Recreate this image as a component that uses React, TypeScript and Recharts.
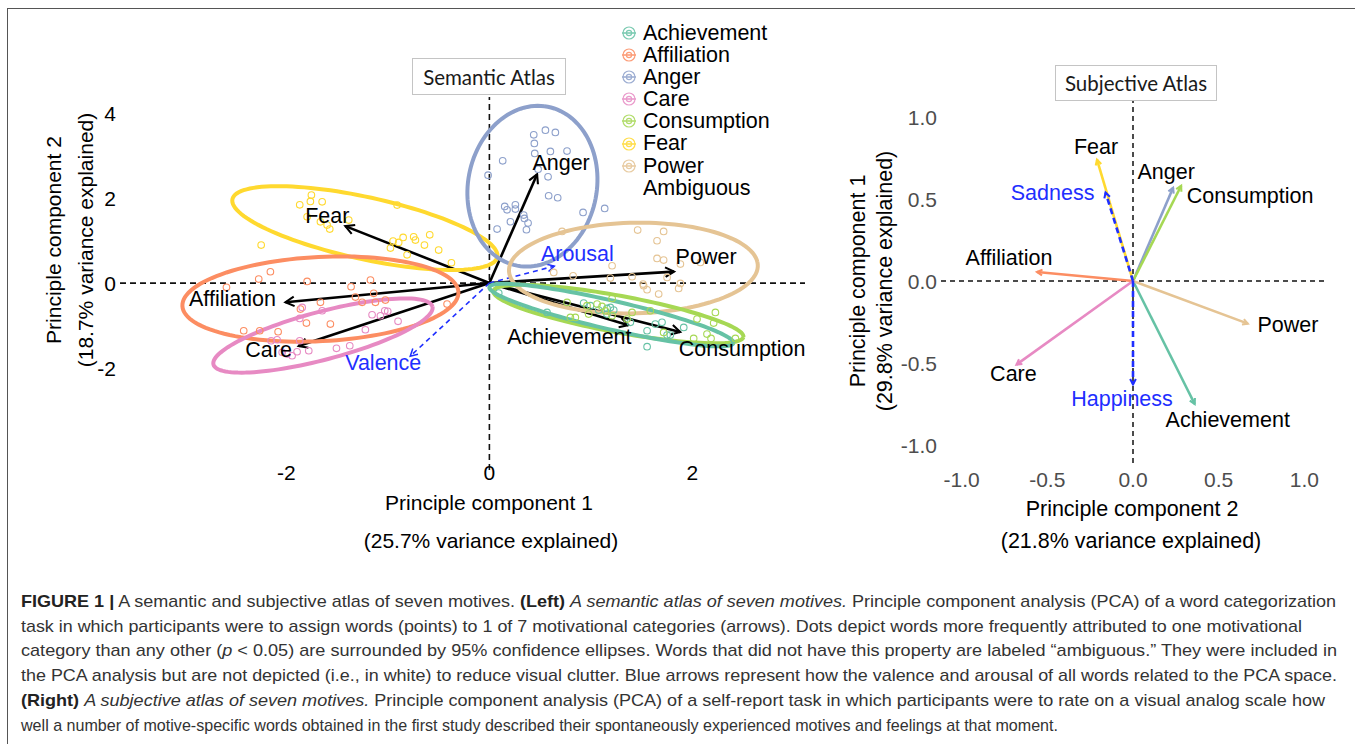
import React from 'react';
import { ScatterChart, Scatter, XAxis, YAxis, ReferenceLine } from 'recharts';

const SANS = '"Liberation Sans", Arial, Helvetica, sans-serif';

// ---------- categories ----------
const categories = ['Achievement', 'Affiliation', 'Anger', 'Care', 'Consumption', 'Fear', 'Power'];
const legendLabels = [...categories, 'Ambiguous'];

// ---------- tick labels ----------
const semanticXTicks = [-2, 0, 2];
const semanticYTicks = [-2, 0, 2, 4];
const subjectiveTicks = [-1, -0.5, 0, 0.5, 1];

// ---------- semantic atlas: category loadings (arrows) ----------
const semanticArrows = [
  { name: 'Achievement', x: 1.37, y: -0.99 },
  { name: 'Affiliation', x: -2.01, y: -0.45 },
  { name: 'Anger', x: 0.47, y: 2.56 },
  { name: 'Care', x: -1.88, y: -1.48 },
  { name: 'Consumption', x: 1.88, y: -1.15 },
  { name: 'Fear', x: -1.42, y: 1.34 },
  { name: 'Power', x: 1.82, y: 0.27 },
];
const semanticBlueArrows = [
  { name: 'Arousal', x: 0.64, y: 0.4 },
  { name: 'Valence', x: -0.78, y: -1.72 },
];

// ---------- semantic atlas: words (points) ----------
const achievementWords = [
  [0.568, -0.69], [0.929, -0.471], [0.995, -0.533], [1.159, -0.596], [1.192, -0.572], [1.077, -0.635],
  [1.225, -0.635], [1.159, -0.729], [1.635, -0.965], [1.701, -0.925], [1.915, -1.043], [1.751, -1.224],
  [1.783, -1.224], [1.554, -1.498], [1.554, -1.122], [0.092, -0.235], [1.389, -0.925],
];
const affiliationWords = [
  [-2.158, 0.266], [-2.273, 0.094], [-1.796, 0.04], [-1.172, 0.071], [-1.363, -0.087], [-1.14, -0.242],
  [-1.025, -0.4], [-1.123, -0.454], [-1.254, -0.454], [-1.665, -0.454], [-1.803, -0.941], [-2.082, -1.146],
  [-2.263, -1.122], [-2.421, -1.122], [-2.591, -0.101], [-0.417, -0.494], [-1.567, -0.965], [-1.862, -0.612],
  [-1.32, -0.33],
];
const angerWords = [
  [0.437, 3.49], [0.552, 3.6], [0.65, 3.545], [0.443, 3.287], [0.447, 3.051], [0.601, 3.098], [0.765, 3.106],
  [0.578, 2.502], [0.48, 2.682], [0.131, 2.878], [-0.013, 2.541], [0.584, 2.055], [0.673, 2.008],
  [0.151, 1.804], [0.174, 1.725], [0.256, 1.843], [0.256, 1.741], [0.338, 1.6], [0.345, 1.522],
  [0.381, 1.412], [0.365, 1.255], [0.207, 1.443], [0.076, 1.271], [0.923, 1.663], [1.136, 1.757],
];
const careWords = [
  [-1.845, -0.572], [-1.869, -0.831], [-1.648, -0.652], [-1.156, -0.746], [-1.074, -0.769], [-1.031, -0.652],
  [-1.002, -0.666], [-0.9, -0.901], [-1.222, -1.099], [-1.376, -1.475], [-1.507, -1.536], [-1.78, -1.593],
  [-1.869, -1.358], [-1.895, -1.616], [-1.944, -1.711], [-2.042, -1.631], [-2.092, -1.334], [-2.151, -1.358],
  [-1.993, -1.671],
];
const consumptionWords = [
  [0.765, -0.455], [0.798, -0.808], [0.847, -0.808], [0.962, -0.533], [1.061, -0.494], [1.11, -0.549],
  [1.143, -0.651], [1.209, -0.769], [0.978, -0.729], [1.209, -0.361], [1.357, -0.847], [1.586, -0.651],
  [2.046, -0.847], [2.227, -0.69], [2.21, -0.941], [2.144, -1.2], [2.013, -1.302], [2.184, -1.302],
  [2.424, -1.302], [1.717, -1.161], [1.406, -0.69],
];
const fearWords = [
  [-1.869, 1.842], [-1.754, 2.071], [-1.764, 1.922], [-1.648, 1.913], [-1.796, 1.56], [-1.665, 1.442],
  [-1.599, 1.365], [-1.573, 1.271], [-1.386, 1.482], [-0.909, 1.835], [-2.249, 0.894], [-0.949, 0.988],
  [-0.894, 0.958], [-0.85, 1.075], [-0.746, 1.089], [-0.729, 1.012], [-0.588, 1.136], [-0.64, 0.894],
  [-0.975, 0.824], [-0.811, 0.666], [-0.5, 0.776], [-0.374, 0.478],
];
const powerWords = [
  [0.716, 1.216], [1.461, 1.247], [1.717, 1.216], [1.652, 0.996], [1.652, 0.58], [1.717, 0.541],
  [2.079, 0.486], [1.209, 0.408], [0.634, 0.251], [0.825, 0.173], [1.406, 0.149], [1.751, 0.133],
  [1.882, -0.008], [1.52, -0.063], [1.668, -0.259], [1.865, -0.125], [1.514, -0.024], [1.554, -0.157],
  [1.192, 0.118], [1.882, 0.447],
];

// ---------- semantic atlas: 95% confidence ellipses (centre + two semi-axis vectors) ----------
const confidenceEllipses = [
  { name: 'Fear', cx: -1.227, cy: 1.294, ux: 1.305, uy: -0.682, vx: 0.065, vy: 0.713 },
  { name: 'Affiliation', cx: -1.665, cy: -0.376, ux: 1.36, uy: 0.165, vx: -0.02, vy: 0.99 },
  { name: 'Care', cx: -1.64, cy: -1.235, ux: 1.079, uy: 0.682, vx: -0.06, vy: 0.546 },
  { name: 'Anger', cx: 0.424, cy: 2.28, ux: 0.118, uy: 1.882, vx: 0.63, vy: -0.188 },
  { name: 'Power', cx: 1.419, cy: 0.353, ux: 1.222, uy: 0.141, vx: -0.099, vy: 1.059 },
  { name: 'Consumption', cx: 1.271, cy: -0.729, ux: 1.232, uy: -0.541, vx: 0.033, vy: 0.424 },
  { name: 'Achievement', cx: 1.202, cy: -0.753, ux: 1.202, uy: -0.659, vx: 0.03, vy: 0.33 },
];

// ---------- subjective atlas: loadings ----------
const subjectiveArrows = [
  { name: 'Achievement', x: 0.36, y: -0.75 },
  { name: 'Affiliation', x: -0.56, y: 0.055 },
  { name: 'Anger', x: 0.234, y: 0.569 },
  { name: 'Care', x: -0.68, y: -0.51 },
  { name: 'Consumption', x: 0.281, y: 0.581 },
  { name: 'Fear', x: -0.21, y: 0.74 },
  { name: 'Power', x: 0.67, y: -0.26 },
];
const subjectiveBlueArrows = [
  { name: 'Sadness', x: -0.16, y: 0.54 },
  { name: 'Happiness', x: 0.0, y: -0.63 },
];

// ---------- styles ----------
const COLORS: Record<string, string> = {
  Achievement: '#66C2A5',
  Affiliation: '#FC8D62',
  Anger: '#8DA0CB',
  Care: '#E78AC3',
  Consumption: '#A6D854',
  Fear: '#FFD92F',
  Power: '#E5C494',
};
const BLUE = '#1f2fff';

const wordSets: Record<string, number[][]> = {
  Achievement: achievementWords,
  Affiliation: affiliationWords,
  Anger: angerWords,
  Care: careWords,
  Consumption: consumptionWords,
  Fear: fearWords,
  Power: powerWords,
};

const semanticLabelOffset: Record<string, [number, number]> = {
  Anger: [24, -12], Fear: [-18, -11], Power: [32, -15], Affiliation: [-53, -4], Care: [-30, 3],
  Achievement: [-59, 11], Consumption: [62, 16], Arousal: [23, -13], Valence: [-27, 6],
};
const subjectiveLabelOffset: Record<string, [number, number]> = {
  Fear: [-1, -13], Sadness: [-53, 0], Anger: [-7, -16], Consumption: [69, 10], Affiliation: [-28, -15],
  Power: [40, 1], Care: [-3, 9], Achievement: [33, 15], Happiness: [-11, 14],
};

function ellipsePoints(e: any) {
  const pts: { x: number; y: number }[] = [];
  const n = 120;
  for (let i = 0; i <= n; i++) {
    const t = (i / n) * 2 * Math.PI;
    pts.push({
      x: e.cx + e.ux * Math.cos(t) + e.vx * Math.sin(t),
      y: e.cy + e.uy * Math.cos(t) + e.vy * Math.sin(t),
    });
  }
  return pts;
}

function arrowShape(color: string, width: number, dash: string | undefined, head: number) {
  return (p: any) => {
    const { x1, y1, x2, y2 } = p;
    const ang = Math.atan2(y2 - y1, x2 - x1);
    const a1 = ang + Math.PI - 0.5;
    const a2 = ang + Math.PI + 0.5;
    const pts = `${x2 + head * Math.cos(a1)},${y2 + head * Math.sin(a1)} ${x2},${y2} ${x2 + head * Math.cos(a2)},${y2 + head * Math.sin(a2)}`;
    return (
      <g>
        <line x1={x1} y1={y1} x2={x2} y2={y2} stroke={color} strokeWidth={width} strokeDasharray={dash} />
        <polyline points={pts} fill="none" stroke={color} strokeWidth={Math.max(1.5, width * 0.8)} />
      </g>
    );
  };
}

function labelShape(offsets: Record<string, [number, number]>, size: number, colorFor: (n: string) => string) {
  return (p: any) => {
    const name = p.payload.name;
    const [dx, dy] = offsets[name] || [0, 0];
    return (
      <text x={p.cx + dx} y={p.cy + dy} dy="0.36em" textAnchor="middle" fontSize={size} fontFamily={SANS} fill={colorFor(name)}>
        {name}
      </text>
    );
  };
}

const openCircle = (color: string) => (p: any) => (
  <circle cx={p.cx} cy={p.cy} r={3.3} fill="none" stroke={color} strokeWidth={1.1} />
);

const LeftXTick = (p: any) => (
  <text x={p.x} y={p.y - 5} dy="0.71em" textAnchor="middle" fontSize={21} fontFamily={SANS} fill="#000">
    {p.payload.value}
  </text>
);
const LeftYTick = (p: any) => (
  <text x={p.x - 4} y={p.y} dy="0.36em" textAnchor="end" fontSize={21} fontFamily={SANS} fill="#000">
    {p.payload.value}
  </text>
);
const RightXTick = (p: any) => (
  <text x={p.x} y={p.y + 9} dy="0.71em" textAnchor="middle" fontSize={21} fontFamily={SANS} fill="#4d4d4d">
    {Number(p.payload.value).toFixed(1)}
  </text>
);
const RightYTick = (p: any) => (
  <text x={p.x - 4} y={p.y} dy="0.36em" textAnchor="end" fontSize={21} fontFamily={SANS} fill="#4d4d4d">
    {Number(p.payload.value).toFixed(1)}
  </text>
);

const abs = (s: React.CSSProperties): React.CSSProperties => ({ position: 'absolute', ...s });

function SemanticAtlas() {
  return (
    <div style={abs({ left: 0, top: 0 })}>
      <ScatterChart width={830} height={500} margin={{ top: 97, right: 25, bottom: 0, left: 80 }}>
        <XAxis type="number" dataKey="x" domain={[-3.64, 3.11]} ticks={semanticXTicks} axisLine={false} tickLine={false} tickSize={0} tickMargin={0} height={30} tick={<LeftXTick />} interval={0} />
        <YAxis type="number" dataKey="y" domain={[-4.4, 4.38]} ticks={semanticYTicks} axisLine={false} tickLine={false} tickSize={0} tickMargin={0} width={40} tick={<LeftYTick />} interval={0} />
        <ReferenceLine y={0} stroke="#111" strokeWidth={1.6} strokeDasharray="6 4" />
        <ReferenceLine x={0} stroke="#111" strokeWidth={1.6} strokeDasharray="6 4" />
        {confidenceEllipses.map((e) => (
          <Scatter key={'el' + e.name} data={ellipsePoints(e)} fill={COLORS[e.name]} line={{ stroke: COLORS[e.name], strokeWidth: 4 }} lineType="joint" shape={() => <g />} isAnimationActive={false} />
        ))}
        {categories.map((c) => (
          <Scatter key={'pt' + c} data={wordSets[c].map(([x, y]) => ({ x, y }))} shape={openCircle(COLORS[c])} isAnimationActive={false} />
        ))}
        {semanticArrows.map((a) => (
          <ReferenceLine key={'ar' + a.name} segment={[{ x: 0, y: 0 }, { x: a.x, y: a.y }]} ifOverflow="visible" shape={arrowShape('#000', 2.6, undefined, 10)} />
        ))}
        {semanticBlueArrows.map((a) => (
          <ReferenceLine key={'ab' + a.name} segment={[{ x: 0, y: 0 }, { x: a.x, y: a.y }]} ifOverflow="visible" shape={arrowShape(BLUE, 1.6, '5 4', 8)} />
        ))}
        <Scatter data={semanticArrows} shape={labelShape(semanticLabelOffset, 21.5, () => '#000')} isAnimationActive={false} />
        <Scatter data={semanticBlueArrows} shape={labelShape(semanticLabelOffset, 21.5, () => BLUE)} isAnimationActive={false} />
      </ScatterChart>
    </div>
  );
}

function SubjectiveAtlas() {
  return (
    <div style={abs({ left: 830, top: 0 })}>
      <ScatterChart width={525} height={560} margin={{ top: 99, right: 30, bottom: 67, left: 71 }}>
        <XAxis type="number" dataKey="x" domain={[-1.12, 1.12]} ticks={subjectiveTicks} axisLine={false} tickLine={false} tickSize={0} tickMargin={0} height={30} tick={<RightXTick />} interval={0} />
        <YAxis type="number" dataKey="y" domain={[-1.11, 1.11]} ticks={subjectiveTicks} axisLine={false} tickLine={false} tickSize={0} tickMargin={0} width={40} tick={<RightYTick />} interval={0} />
        <ReferenceLine y={0} stroke="#111" strokeWidth={1.5} strokeDasharray="5 4" />
        <ReferenceLine x={0} stroke="#111" strokeWidth={1.5} strokeDasharray="5 4" />
        {subjectiveArrows.map((a) => (
          <ReferenceLine key={'sr' + a.name} segment={[{ x: 0, y: 0 }, { x: a.x, y: a.y }]} ifOverflow="visible" shape={arrowShape(COLORS[a.name], 2.6, undefined, 6)} />
        ))}
        {subjectiveBlueArrows.map((a) => (
          <ReferenceLine key={'sb' + a.name} segment={[{ x: 0, y: 0 }, { x: a.x, y: a.y }]} ifOverflow="visible" shape={arrowShape(BLUE, 2.6, '6 4', 6)} />
        ))}
        <Scatter data={subjectiveArrows} shape={labelShape(subjectiveLabelOffset, 21.5, () => '#000')} isAnimationActive={false} />
        <Scatter data={subjectiveBlueArrows} shape={labelShape(subjectiveLabelOffset, 21.5, () => BLUE)} isAnimationActive={false} />
      </ScatterChart>
    </div>
  );
}

function LegendBlock() {
  return (
    <div style={abs({ left: 620, top: 22, fontFamily: SANS, fontSize: 21.5, lineHeight: '22.1px', color: '#000' })}>
      {legendLabels.map((l) => (
        <div key={l} style={{ display: 'flex', alignItems: 'center', height: 22.1 }}>
          <svg width={18} height={16} style={{ marginRight: 5 }}>
            {COLORS[l] ? (
              <g stroke={COLORS[l]} fill="none" strokeWidth={1.2} opacity={0.85}>
                <circle cx={9} cy={8} r={6} />
                <circle cx={9} cy={8} r={2.6} />
                <line x1={2} y1={8} x2={16} y2={8} strokeWidth={1.6} />
              </g>
            ) : null}
          </svg>
          <span>{l}</span>
        </div>
      ))}
    </div>
  );
}

const titleBox = (left: number, top: number, w: number, h: number, text: string) => (
  <div
    style={abs({
      left, top, width: w, height: h, boxSizing: 'border-box', border: '1.5px solid #c4c4c4', background: '#fff',
      display: 'flex', alignItems: 'center', justifyContent: 'center', fontFamily: 'Lato, "Open Sans", sans-serif',
      fontSize: 20.5, color: '#1a1a1a',
    })}
  >
    {text}
  </div>
);

const centered = (cx: number, cy: number, text: string, size: number, rotate = false) => (
  <div
    style={abs({
      left: cx, top: cy, transform: `translate(-50%, -50%)${rotate ? ' rotate(-90deg)' : ''}`, whiteSpace: 'nowrap',
      fontFamily: SANS, fontSize: size, color: '#000', lineHeight: 1,
    })}
  >
    {text}
  </div>
);

type Part = { t: string; b?: boolean; i?: boolean };
const captionLines: Part[][] = [
  [
    { t: 'FIGURE 1 |', b: true },
    { t: ' A semantic and subjective atlas of seven motives. ' },
    { t: '(Left)', b: true },
    { t: ' ' },
    { t: 'A semantic atlas of seven motives.', i: true },
    { t: ' Principle component analysis (PCA) of a word categorization' },
  ],
  [{ t: 'task in which participants were to assign words (points) to 1 of 7 motivational categories (arrows). Dots depict words more frequently attributed to one motivational' }],
  [
    { t: 'category than any other (' },
    { t: 'p', i: true },
    { t: ' < 0.05) are surrounded by 95% confidence ellipses. Words that did not have this property are labeled \u201cambiguous.\u201d They were included in' },
  ],
  [{ t: 'the PCA analysis but are not depicted (i.e., in white) to reduce visual clutter. Blue arrows represent how the valence and arousal of all words related to the PCA space.' }],
  [
    { t: '(Right)', b: true },
    { t: ' ' },
    { t: 'A subjective atlas of seven motives.', i: true },
    { t: ' Principle component analysis (PCA) of a self-report task in which participants were to rate on a visual analog scale how' },
  ],
  [{ t: 'well a number of motive-specific words obtained in the first study described their spontaneously experienced motives and feelings at that moment.' }],
];
const captionRightEdges = [1336, 1302, 1337, 1337, 1325, 1058];

function Caption() {
  const left = 21;
  return (
    <svg style={abs({ left: 0, top: 580 })} width={1355} height={164}>
      {captionLines.map((parts, i) => (
        <text
          key={i}
          x={left}
          y={27 + i * 24.7}
          textLength={captionRightEdges[i] - left}
          lengthAdjust="spacingAndGlyphs"
          fontFamily={SANS}
          fontSize={17}
          fill="#333"
        >
          {parts.map((p, j) => (
            <tspan key={j} fontWeight={p.b ? 'bold' : 'normal'} fontStyle={p.i ? 'italic' : 'normal'} fill={p.b ? '#222' : '#333'}>
              {p.t}
            </tspan>
          ))}
        </text>
      ))}
    </svg>
  );
}

export default function App() {
  return (
    <div style={abs({ left: 0, top: 0, width: 1355, height: 744, background: '#fff', overflow: 'hidden' })}>
      <div style={abs({ left: 7, top: 8, width: 1360, height: 760, borderTop: '1.5px solid #555', borderLeft: '1.5px solid #555' })} />
      <SemanticAtlas />
      <SubjectiveAtlas />
      <LegendBlock />
      {titleBox(412, 58, 154, 37, 'Semantic Atlas')}
      {titleBox(1055, 65, 162, 36, 'Subjective Atlas')}
      {centered(489, 502, 'Principle component 1', 21)}
      {centered(491, 540, '(25.7% variance explained)', 21)}
      {centered(53, 240, 'Principle component 2', 21, true)}
      {centered(85, 240, '(18.7% variance explained)', 21, true)}
      {centered(1132, 510, 'Principle component 2', 21.5)}
      {centered(1131, 542, '(21.8% variance explained)', 21.5)}
      {centered(859, 281, 'Principle component 1', 21.5, true)}
      {centered(886, 281, '(29.8% variance explained)', 21.5, true)}
      <Caption />
    </div>
  );
}
